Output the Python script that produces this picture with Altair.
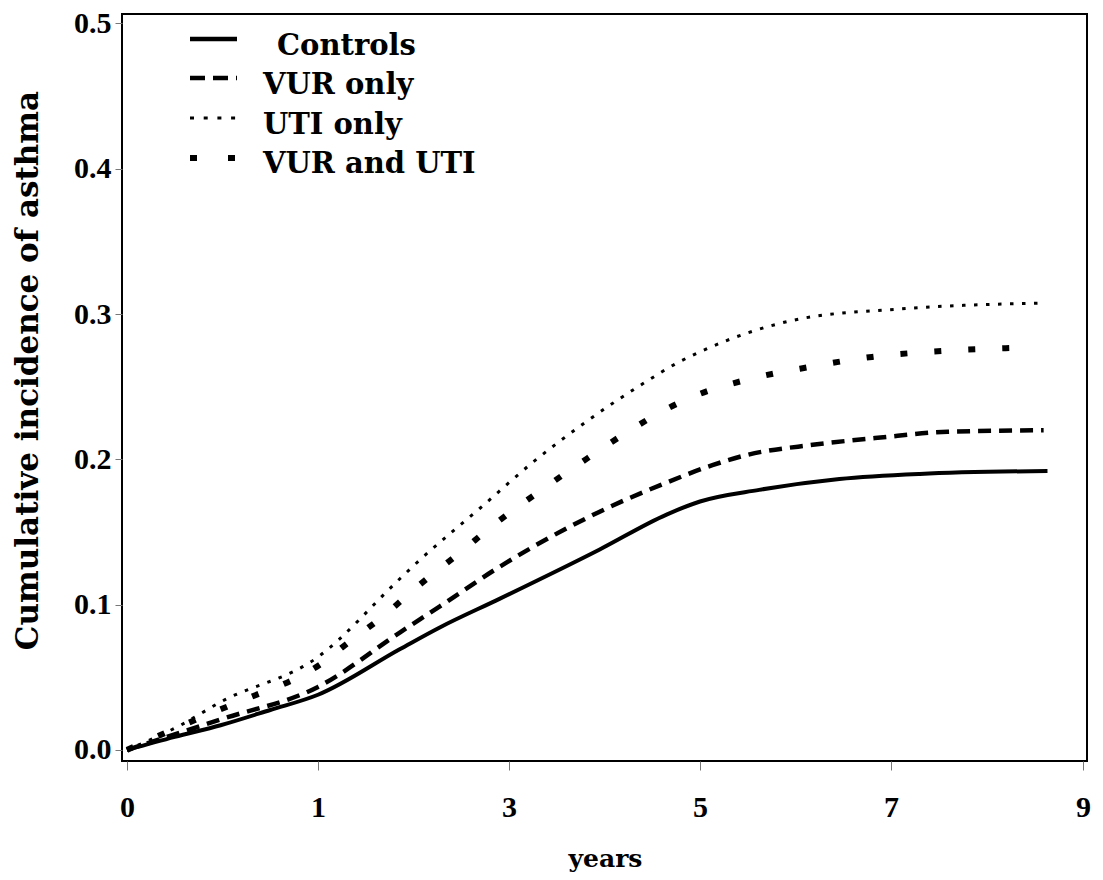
import altair as alt
import pandas as pd

# ---- data ----
ctrl_years = [0, 0.25, 0.49, 0.75, 1.0, 1.86, 2.28, 2.90, 3.95, 4.65, 5.0, 5.62, 6.46, 7.30, 8.63]
ctrl_vals = [0, 0.009, 0.017, 0.0275, 0.038, 0.0695, 0.0845, 0.104, 0.138, 0.162, 0.171, 0.179, 0.1865, 0.190, 0.192]

vur_years = [0, 0.49, 1.0, 1.86, 2.28, 2.90, 3.95, 4.65, 5.13, 5.49, 6.18, 6.89, 7.59, 8.59]
vur_vals = [0, 0.021, 0.0434, 0.081, 0.099, 0.126, 0.164, 0.184, 0.196, 0.203, 0.210, 0.215, 0.219, 0.220]

uti_years = [0, 0.28, 0.49, 1.0, 1.86, 2.07, 2.69, 3.25, 3.81, 4.40, 4.78, 5.0, 6.04, 7.09, 8.61]
uti_vals = [0, 0.017, 0.033, 0.064, 0.118, 0.131, 0.166, 0.198, 0.226, 0.252, 0.267, 0.274, 0.2966, 0.3035, 0.3076]

both_years = [0, 0.38, 0.64, 0.91, 1.05, 1.26, 1.68, 2.07, 2.49, 2.88, 3.32, 3.76, 4.19, 4.66, 4.92,
              5.50, 6.15, 6.80, 7.54, 8.30]
both_vals = [0, 0.022, 0.036, 0.051, 0.0600, 0.071, 0.092, 0.114, 0.136, 0.157, 0.178, 0.198, 0.2168,
             0.235, 0.243, 0.255, 0.2636, 0.2705, 0.2746, 0.2767]

series_names = ["Controls", "VUR only", "UTI only", "VUR and UTI"]
x_ticks = [0, 1, 3, 5, 7, 9]
y_ticks = [0.0, 0.1, 0.2, 0.3, 0.4, 0.5]

TEXT_FONT = "DejaVu Serif"
TICK_FONT = "Liberation Serif"

W, H = 965, 747

x_scale = alt.Scale(domain=x_ticks, range=[5, 196, 387, 578, 769, 961])
y_scale = alt.Scale(domain=[-0.0076, 0.5065], nice=False, zero=False)

x_axis = alt.Axis(values=x_ticks, format="d", title="years", grid=False, domain=False,
                  tickColor="#777777", tickSize=9, tickWidth=1,
                  labelFont=TICK_FONT, labelFontSize=30, labelFontWeight="bold", labelColor="black",
                  labelPadding=22, labelFlush=False,
                  titleFont=TEXT_FONT, titleFontSize=25, titleFontWeight="bold", titleColor="black",
                  titleY=105, titleBaseline="alphabetic")
y_axis = alt.Axis(values=y_ticks, format=".1f", title="Cumulative incidence of asthma", grid=False,
                  domain=False, tickColor="#777777", tickSize=7, tickWidth=1,
                  labelFont=TICK_FONT, labelFontSize=30, labelFontWeight="bold", labelColor="black",
                  labelPadding=4,
                  titleFont=TEXT_FONT, titleFontSize=31, titleFontWeight="bold", titleColor="black",
                  titleX=-94, titleY=356, titleAngle=-90, titleAlign="center", titleBaseline="middle")

styles = {
    "Controls": dict(strokeWidth=4, dash=None, leg_dash=None),
    "VUR only": dict(strokeWidth=4.5, dash=[13, 8], leg_dash=[15, 8]),
    "UTI only": dict(strokeWidth=3, dash=[3.5, 8.5], leg_dash=[4, 9.7]),
    "VUR and UTI": dict(strokeWidth=6, dash=[7, 27], leg_dash=[7, 31]),
}
data_map = {
    "Controls": (ctrl_years, ctrl_vals),
    "VUR only": (vur_years, vur_vals),
    "UTI only": (uti_years, uti_vals),
    "VUR and UTI": (both_years, both_vals),
}

layers = []
for i, name in enumerate(series_names):
    yrs, vals = data_map[name]
    df = pd.DataFrame({"years": yrs, "value": vals, "group": name})
    st = styles[name]
    mk = dict(color="black", strokeWidth=st["strokeWidth"], strokeCap="butt", strokeJoin="round",
              interpolate="monotone")
    if st["dash"]:
        mk["strokeDash"] = st["dash"]
    line = alt.Chart(df).mark_line(**mk).encode(
        x=alt.X("years:Q", scale=x_scale, axis=x_axis),
        y=alt.Y("value:Q", scale=y_scale, axis=y_axis),
    )
    layers.append(line)

# ---- legend (upper left) ----
leg_sym_y = [25, 64, 104, 144]
leg_txt_y = [41, 80, 120, 159]
leg_txt_x = [155, 141, 141, 141]
for i, name in enumerate(series_names):
    st = styles[name]
    ldf = pd.DataFrame({"label": [name]})
    rk = dict(color="black", strokeWidth=st["strokeWidth"] + (0.5 if name == "Controls" else 0), strokeCap="butt")
    if st["leg_dash"]:
        rk["strokeDash"] = st["leg_dash"]
    sym = alt.Chart(ldf).mark_rule(**rk).encode(
        x=alt.value(68), x2=alt.value(115), y=alt.value(leg_sym_y[i])
    )
    txt = alt.Chart(ldf).mark_text(
        font=TEXT_FONT, fontSize=29, fontWeight="bold", color="black", align="left", baseline="alphabetic"
    ).encode(x=alt.value(leg_txt_x[i]), y=alt.value(leg_txt_y[i]), text="label:N")
    layers += [sym, txt]

chart = alt.layer(*layers).properties(
    width=W, height=H,
    autosize=alt.AutoSizeParams(type="none"),
    padding={"left": 114, "top": 6, "right": 8, "bottom": 111},
    background="white",
).configure_view(stroke="black", strokeWidth=2)

chart.save("out.html", embed_options={"renderer": "svg", "actions": False})
